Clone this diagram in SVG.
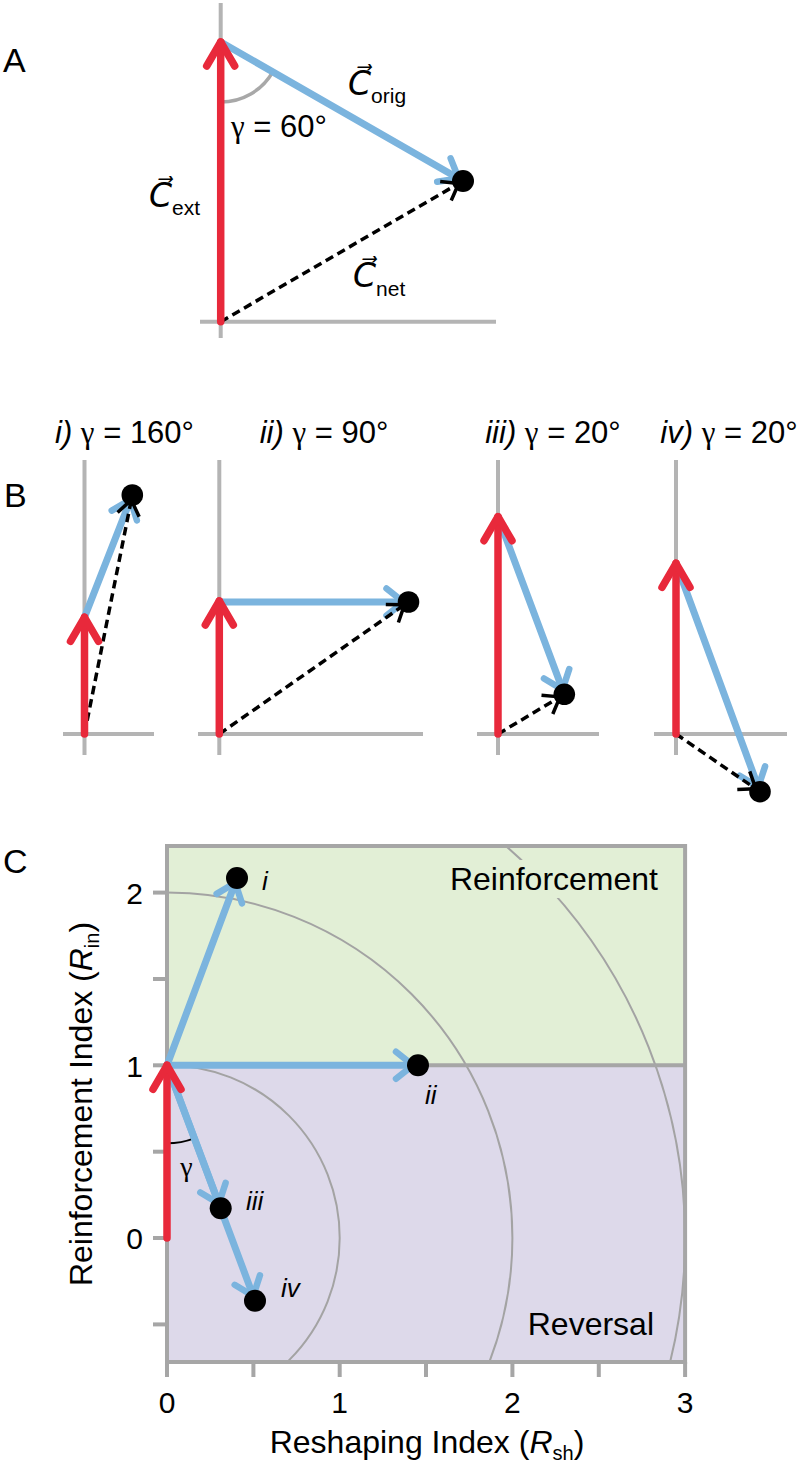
<svg xmlns="http://www.w3.org/2000/svg" width="803" height="1467" viewBox="0 0 803 1467">
<style>
text{font-family:"Liberation Sans",Arial,sans-serif;fill:#000}
.pl{font-size:34px}
.ax{stroke:#b4b4b4;stroke-width:4;fill:none}
.red{stroke:#e8293b;stroke-width:7.5;stroke-linecap:round;fill:none;marker-end:url(#hr)}
.blue{stroke:#7bb4de;stroke-width:7;stroke-linecap:round;fill:none;marker-end:url(#hb)}
.dash{stroke:#000;stroke-width:3.5;stroke-dasharray:8.5 5;fill:none;marker-end:url(#hk)}
.dot{fill:#000}
.t30{font-size:31px}
.it{font-style:italic}
.g{font-family:"Liberation Serif","Times New Roman",serif}
.cl{font-family:"DejaVu Sans",sans-serif;font-size:33px;font-style:italic}
.sub{font-size:21px;font-style:normal}
.frame{stroke:#a6a6a6;stroke-width:4;fill:none}
.circ{stroke:#a3a3a3;stroke-width:2;fill:none}
.tick{font-size:30px}
.lab{font-size:26px;font-style:italic}
.reg{font-size:32px}
</style>
<defs>
<marker id="hr" markerUnits="userSpaceOnUse" orient="auto" overflow="visible" markerWidth="10" markerHeight="10" refX="0" refY="0">
<path d="M-24,-14 L0,0 L-24,14" fill="none" stroke="#e8293b" stroke-width="7.5" stroke-linecap="round" stroke-linejoin="round"/>
</marker>
<marker id="hb" markerUnits="userSpaceOnUse" orient="auto" overflow="visible" markerWidth="10" markerHeight="10" refX="0" refY="0">
<path d="M-22,-13.5 L-5,0 L-22,13.5" fill="none" stroke="#7bb4de" stroke-width="6.5" stroke-linecap="round" stroke-linejoin="round"/>
</marker>
<marker id="hk" markerUnits="userSpaceOnUse" orient="auto" overflow="visible" markerWidth="10" markerHeight="10" refX="0" refY="0">
<path d="M-20,-11 L-5,0 L-20,11" fill="none" stroke="#000" stroke-width="3.5" stroke-linejoin="round"/>
</marker>
<clipPath id="plotclip"><rect x="167" y="846" width="518.1" height="516"/></clipPath>
</defs>
<rect width="803" height="1467" fill="#fff"/>

<!-- Panel labels -->
<g id="panel-labels">
<text class="pl" x="3" y="72">A</text>
<text class="pl" x="4" y="507">B</text>
<text class="pl" x="3" y="873">C</text>
</g>

<!-- Panel A -->
<g id="panelA">
<g id="A-axes">
<line class="ax" x1="220.7" y1="3" x2="220.7" y2="338"/>
<line class="ax" x1="200" y1="321.7" x2="496" y2="321.7"/>
</g>
<path id="A-angle" d="M220.7,102 A60,60 0 0,0 272.8,71.8" stroke="#a8a8a8" stroke-width="3.5" fill="none"/>
<g id="A-connectors">
<line class="blue" x1="220.7" y1="42" x2="463" y2="181"/>
<line class="dash" x1="220.7" y1="321.7" x2="463" y2="181"/>
<line class="red" x1="220.7" y1="321.7" x2="220.7" y2="42"/>
</g>
<g id="A-net-point"><circle class="dot" cx="463" cy="181" r="11"/></g>
<g id="A-texts">
<text class="t30" x="231" y="136.5"><tspan class="g">γ</tspan> = 60°</text>
<text x="149" y="206.7"><tspan class="cl">C&#x20D7;</tspan><tspan class="sub" dy="8">ext</tspan></text>
<text x="348" y="95"><tspan class="cl">C&#x20D7;</tspan><tspan class="sub" dy="7.5">orig</tspan></text>
<text x="353" y="286.7"><tspan class="cl">C&#x20D7;</tspan><tspan class="sub" dy="9">net</tspan></text>
</g>
</g>

<!-- Panel B -->
<g id="panelB">
<g id="B-titles">
<text class="t30" x="124.5" y="443" text-anchor="middle"><tspan class="it">i)</tspan> <tspan class="g">γ</tspan> = 160°</text>
<text class="t30" x="324" y="443" text-anchor="middle"><tspan class="it">ii)</tspan> <tspan class="g">γ</tspan> = 90°</text>
<text class="t30" x="553" y="443" text-anchor="middle"><tspan class="it">iii)</tspan> <tspan class="g">γ</tspan> = 20°</text>
<text class="t30" x="729" y="443" text-anchor="middle"><tspan class="it">iv)</tspan> <tspan class="g">γ</tspan> = 20°</text>
</g>
<g id="B-i">
<line class="ax" x1="84.5" y1="460" x2="84.5" y2="755"/>
<line class="ax" x1="63" y1="734" x2="154" y2="734"/>
<g class="connectors">
<line class="blue" x1="84.5" y1="617.3" x2="132.3" y2="495"/>
<line class="dash" x1="84.5" y1="734" x2="132.3" y2="495"/>
<line class="red" x1="84.5" y1="734" x2="84.5" y2="617.3"/>
</g>
<circle class="dot" cx="132.3" cy="495" r="10.8"/>
</g>
<g id="B-ii">
<line class="ax" x1="219.3" y1="460" x2="219.3" y2="755"/>
<line class="ax" x1="198" y1="734" x2="423" y2="734"/>
<g class="connectors">
<line class="blue" x1="219.3" y1="602" x2="408.5" y2="602"/>
<line class="dash" x1="219.3" y1="734" x2="408.5" y2="602"/>
<line class="red" x1="219.3" y1="734" x2="219.3" y2="601"/>
</g>
<circle class="dot" cx="408.5" cy="602" r="10.8"/>
</g>
<g id="B-iii">
<line class="ax" x1="498" y1="460" x2="498" y2="755"/>
<line class="ax" x1="477" y1="734" x2="599" y2="734"/>
<g class="connectors">
<line class="blue" x1="498" y1="516.7" x2="564.3" y2="694.3"/>
<line class="dash" x1="498" y1="734" x2="564.3" y2="694.3"/>
<line class="red" x1="498" y1="734" x2="498" y2="516.7"/>
</g>
<circle class="dot" cx="564.3" cy="694.3" r="10.8"/>
</g>
<g id="B-iv">
<line class="ax" x1="676" y1="460" x2="676" y2="755"/>
<line class="ax" x1="654" y1="734" x2="787" y2="734"/>
<g class="connectors">
<line class="blue" x1="676" y1="563.3" x2="760" y2="791.7"/>
<line class="dash" x1="676" y1="734" x2="760" y2="791.7"/>
<line class="red" x1="676" y1="734" x2="676" y2="563.3"/>
</g>
<circle class="dot" cx="760" cy="791.7" r="10.8"/>
</g>
</g>

<!-- Panel C -->
<g id="panelC">
<g id="C-regions">
<rect id="region-reinforcement" x="167" y="846" width="518.1" height="219.3" fill="#e2efd6"/>
<rect id="region-reversal" x="167" y="1065.3" width="518.1" height="296.7" fill="#ddd9ea"/>
</g>
<g id="C-circles" clip-path="url(#plotclip)">
<circle class="circ" cx="167" cy="1238" r="172.7"/>
<circle class="circ" cx="167" cy="1238" r="345.4"/>
<circle class="circ" cx="167" cy="1238" r="518.1"/>
</g>
<g id="C-frame">
<rect class="frame" x="167" y="846" width="518.1" height="516"/>
<line class="frame" x1="167" y1="1065.3" x2="685.1" y2="1065.3"/>
<g class="frame">
<line x1="153" y1="892.6" x2="167" y2="892.6"/>
<line x1="153" y1="979" x2="167" y2="979"/>
<line x1="153" y1="1065.3" x2="167" y2="1065.3"/>
<line x1="153" y1="1151.7" x2="167" y2="1151.7"/>
<line x1="153" y1="1238" x2="167" y2="1238"/>
<line x1="153" y1="1324.4" x2="167" y2="1324.4"/>
<line x1="167" y1="1362" x2="167" y2="1377"/>
<line x1="253.4" y1="1362" x2="253.4" y2="1377"/>
<line x1="339.7" y1="1362" x2="339.7" y2="1377"/>
<line x1="426" y1="1362" x2="426" y2="1377"/>
<line x1="512.4" y1="1362" x2="512.4" y2="1377"/>
<line x1="598.8" y1="1362" x2="598.8" y2="1377"/>
<line x1="685.1" y1="1362" x2="685.1" y2="1377"/>
</g>
</g>
<g id="C-ticklabels">
<text class="tick" x="143" y="903.5" text-anchor="end">2</text>
<text class="tick" x="143" y="1076.5" text-anchor="end">1</text>
<text class="tick" x="143" y="1248.5" text-anchor="end">0</text>
<text class="tick" x="167" y="1413" text-anchor="middle">0</text>
<text class="tick" x="339.7" y="1413" text-anchor="middle">1</text>
<text class="tick" x="512.4" y="1413" text-anchor="middle">2</text>
<text class="tick" x="685.1" y="1413" text-anchor="middle">3</text>
</g>
<g id="C-axis-titles">
<text class="reg" x="427" y="1453" text-anchor="middle">Reshaping Index (<tspan class="it">R</tspan><tspan font-size="20" dy="7">sh</tspan><tspan dy="-7">)</tspan></text>
<text class="reg" transform="translate(92,1104) rotate(-90)" x="0" y="0" text-anchor="middle">Reinforcement Index (<tspan class="it">R</tspan><tspan font-size="20" dy="7">in</tspan><tspan dy="-7">)</tspan></text>
</g>
<g id="C-region-labels">
<rect x="440" y="860" width="222" height="38" fill="#e2efd6"/>
<text class="reg" x="658" y="890" text-anchor="end">Reinforcement</text>
<text class="reg" x="654" y="1335" text-anchor="end">Reversal</text>
</g>
<path id="C-angle" d="M167,1143.3 A78,78 0 0,0 194.3,1138.4" stroke="#000" stroke-width="2" fill="none"/>
<text id="C-gamma" class="g" x="186.5" y="1176" font-size="28" text-anchor="middle">γ</text>
<g id="C-connectors">
<line class="blue" x1="167" y1="1065.3" x2="237" y2="878"/>
<line class="blue" x1="167" y1="1065.3" x2="418" y2="1065.3"/>
<line class="blue" x1="167" y1="1065.3" x2="255" y2="1300.7"/>
<line class="blue" x1="167" y1="1065.3" x2="220.7" y2="1208.3"/>
<line class="red" x1="167" y1="1238" x2="167" y2="1065.3"/>
</g>
<g id="C-point-i"><circle class="dot" cx="237" cy="878" r="11"/><text class="lab" x="262" y="890">i</text></g>
<g id="C-point-ii"><circle class="dot" cx="418" cy="1065.3" r="11"/><text class="lab" x="425" y="1104">ii</text></g>
<g id="C-point-iii"><circle class="dot" cx="220.7" cy="1208.3" r="11"/><text class="lab" x="246" y="1210">iii</text></g>
<g id="C-point-iv"><circle class="dot" cx="255" cy="1300.7" r="11"/><text class="lab" x="281" y="1297">iv</text></g>
</g>
</svg>
